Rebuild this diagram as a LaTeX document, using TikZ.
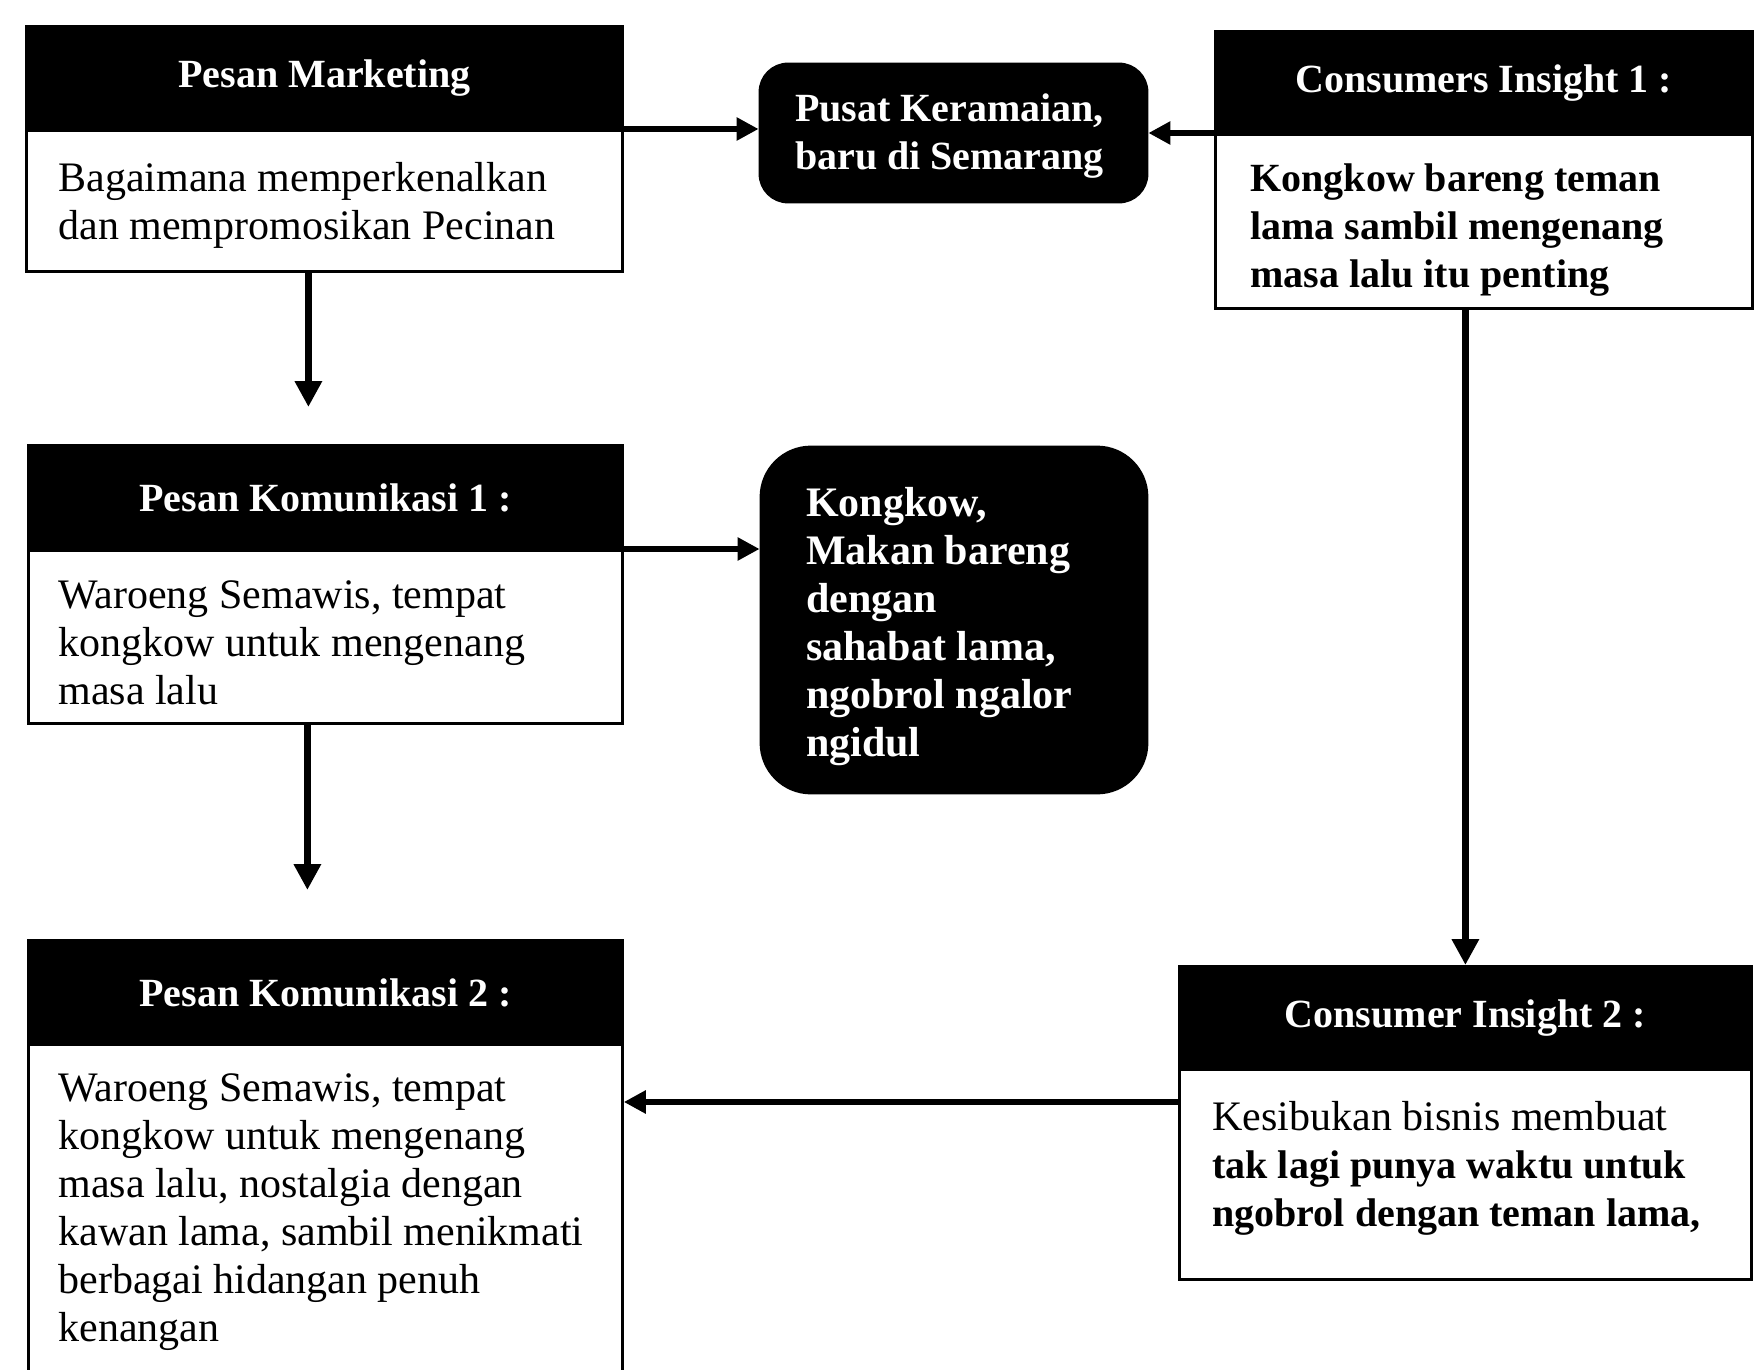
\documentclass[tikz,border=0pt]{standalone}
\usepackage{fontspec}
\setmainfont{Liberation Serif}
\usetikzlibrary{arrows.meta}
\newcommand\bdline[1]{{\bfseries\fontsize{20}{24}\selectfont #1}}
\begin{document}
\begin{tikzpicture}[x=0.5pt,y=-0.5pt,
  hdrbox/.style={fill=black, draw=black, line width=1.4pt, text=white, font=\bfseries\fontsize{20}{24}\selectfont, anchor=north west, inner sep=0pt},
  bodybox/.style={fill=white, draw=black, line width=1.4pt, anchor=north west, inner sep=0pt},
  bodytxt/.style={align=left, inner sep=0pt, font=\fontsize{21}{24}\selectfont, text=black},
  darkbox/.style={fill=black, draw=black, line width=1.4pt, inner sep=0pt},
  darktxt/.style={align=left, inner sep=0pt, text=white, font=\bfseries\fontsize{20}{24}\selectfont},
  arr/.style={draw=black, line width=3.5pt, -{Triangle[length=13pt,width=13pt]}},
  harr/.style={draw=black, line width=2.8pt, -{Triangle[length=11pt,width=11pt]}}
]
\useasboundingbox (0,0) rectangle (1763,1370);
\fill[white] (0,0) rectangle (1763,1370);
\clip (0,0) rectangle (1763,1370);

% Pesan Marketing
\node[hdrbox, minimum width=298pt, minimum height=52pt] (b1h) at (25,25) {Pesan Marketing};
\node[bodybox, minimum width=298pt, minimum height=70.5pt] (b1b) at (25,129) {};
\node[bodytxt, anchor=west] (b1t) at ([xshift=16.5pt,yshift=-2pt]b1b.west) {Bagaimana memperkenalkan\\dan mempromosikan Pecinan};

% Pusat Keramaian
\node[darkbox, rounded corners=14pt, minimum width=193.5pt, minimum height=69pt] (pusat) at (953.5,133) {};
\node[darktxt, anchor=west] (pusatt) at ([xshift=18pt,yshift=-1.75pt]pusat.west) {Pusat Keramaian,\\baru di Semarang};

% Consumers Insight 1
\node[hdrbox, minimum width=268.5pt, minimum height=51.5pt] (c1h) at (1214,30) {Consumers Insight 1 :};
\node[bodybox, minimum width=268.5pt, minimum height=87pt] (c1b) at (1214,133) {};
\node[bodytxt, font=\bfseries\fontsize{20}{24}\selectfont, anchor=west] (c1t) at ([xshift=18pt,yshift=-4.5pt]c1b.west) {Kongkow bareng teman\\lama sambil mengenang\\masa lalu itu penting};

% Pesan Komunikasi 1
\node[hdrbox, minimum width=297pt, minimum height=52.5pt] (p1h) at (27,444) {Pesan Komunikasi 1 :};
\node[bodybox, minimum width=297pt, minimum height=86.5pt] (p1b) at (27,549) {};
\node[bodytxt, anchor=west] (p1t) at ([xshift=15.5pt,yshift=-2.75pt]p1b.west) {Waroeng Semawis, tempat\\kongkow untuk mengenang\\masa lalu};

% Kongkow
\node[darkbox, rounded corners=25pt, minimum width=193pt, minimum height=173pt] (kong) at (954,620) {};
\node[darktxt, font=\bfseries\fontsize{21}{24}\selectfont, anchor=west] (kongt) at ([xshift=23pt,yshift=-3.5pt]kong.west) {Kongkow,\\Makan bareng\\dengan\\sahabat lama,\\ngobrol ngalor\\ngidul};

% Pesan Komunikasi 2
\node[hdrbox, minimum width=297pt, minimum height=52pt] (p2h) at (27,939) {Pesan Komunikasi 2 :};
\node[bodybox, minimum width=297pt, minimum height=200pt] (p2b) at (27,1043) {};
\node[bodytxt, anchor=north west] (p2t) at ([xshift=15.5pt,yshift=-15pt]p2b.north west) {Waroeng Semawis, tempat\\kongkow untuk mengenang\\masa lalu, nostalgia dengan\\kawan lama, sambil menikmati\\berbagai hidangan penuh\\kenangan};

% Consumer Insight 2
\node[hdrbox, minimum width=286pt, minimum height=51.5pt] (c2h) at (1178,965) {Consumer Insight 2 :};
\node[bodybox, minimum width=286pt, minimum height=105pt] (c2b) at (1178,1068) {};
\node[bodytxt, anchor=west] (c2t) at ([xshift=17pt,yshift=3pt]c2b.west) {Kesibukan bisnis membuat\\\bdline{tak lagi punya waktu untuk}\\\bdline{ngobrol dengan teman lama,}};

% connectors
\draw[harr] (b1b.north east) -- (pusat.west |- b1b.north east);
\draw[harr] (c1b.north west) -- (pusat.east |- c1b.north west);
\coordinate (a3e) at ([xshift=-8.5pt,yshift=18.5pt]p1h.north);
\draw[arr] (a3e |- b1b.south) -- (a3e);
\draw[harr] (p1b.north east) -- (kong.west |- p1b.north east);
\coordinate (a5e) at ([xshift=-9pt,yshift=24.5pt]p2h.north);
\draw[arr] (a5e |- p1b.south) -- (a5e);
\draw[arr] (c2h.north |- c1b.south) -- (c2h.north);
\coordinate (a7s) at ([yshift=-17pt]c2b.north west);
\draw[harr] (a7s) -- (p2b.east |- a7s);
\end{tikzpicture}
\end{document}
